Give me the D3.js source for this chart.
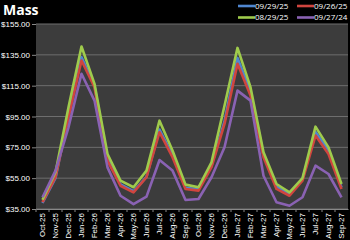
<!DOCTYPE html>
<html>
<head>
<meta charset="utf-8">
<script src="https://cdn.jsdelivr.net/npm/d3@7"></script>
<style>
  body { margin: 0; background: #000; }
  svg { display: block; font-family: "Open Sans", "Liberation Sans", sans-serif; }
</style>
</head>
<body>
<div id="chart"></div>
<script>
// months on the x axis
var months = ["Oct-25","Nov-25","Dec-25","Jan-26","Feb-26","Mar-26","Apr-26","May-26","Jun-26","Jul-26","Aug-26","Sep-26",
              "Oct-26","Nov-26","Dec-26","Jan-27","Feb-27","Mar-27","Apr-27","May-27","Jun-27","Jul-27","Aug-27","Sep-27"];

var seriesNames = ["09/29/25", "09/26/25", "08/29/25", "09/27/24"];
var seriesColors = ["#4f86d0", "#d0453f", "#9fcb4c", "#8a62b3"];

var blue   = [38.9, 55.0, 96.0, 133.5, 115.0, 67.5, 51.0, 46.5, 55.8, 86.5, 70.0, 48.8,
              47.8, 63.0, 92.0, 133.0, 111.0, 70.0, 49.5, 44.5, 54.3, 85.0, 73.0, 49.0];
var red    = [39.4, 55.6, 94.5, 131.3, 114.0, 66.4, 50.1, 45.8, 55.6, 84.8, 68.6, 48.0,
              46.9, 62.1, 90.2, 129.2, 108.6, 68.6, 48.0, 43.6, 53.4, 82.6, 70.7, 48.0];
var green  = [41.0, 58.8, 101.0, 140.4, 116.2, 70.7, 53.4, 49.1, 59.9, 92.3, 72.9, 50.8,
              49.1, 65.3, 102.0, 139.5, 114.0, 71.8, 51.2, 45.8, 55.1, 88.4, 75.0, 51.2];
var purple = [42.6, 59.9, 88.0, 122.7, 105.3, 62.0, 43.6, 38.2, 43.0, 66.8, 59.9, 40.8,
              41.5, 55.6, 75.0, 111.8, 105.3, 56.6, 39.4, 37.1, 42.6, 63.1, 57.7, 42.6];

var yTicks = [35, 55, 75, 95, 115, 135, 155];

var allSeries = [blue, red, green, purple];

var width = 350, height = 240;
var margin = {top: 24, right: 2, bottom: 31, left: 36};

var svg = d3.select("#chart").append("svg")
    .attr("width", width)
    .attr("height", height);

svg.append("rect").attr("width", width).attr("height", height).attr("fill", "#000");

var x = d3.scaleBand()
    .domain(months)
    .range([margin.left, width - margin.right]);

var y = d3.scaleLinear()
    .domain([35, 155])
    .range([height - margin.bottom, margin.top]);

// plot area
svg.append("rect")
    .attr("x", margin.left)
    .attr("y", margin.top)
    .attr("width", width - margin.left - margin.right)
    .attr("height", height - margin.top - margin.bottom)
    .attr("fill", "#3c3c3c");

// gridlines
svg.selectAll(".grid")
    .data(yTicks)
    .enter()
    .append("line")
    .attr("class", "grid")
    .attr("x1", margin.left)
    .attr("x2", width - margin.right)
    .attr("y1", function(d){ return y(d); })
    .attr("y2", function(d){ return y(d); })
    .attr("stroke", "#6e6e6e")
    .attr("stroke-width", 1);

// y axis
var yAxis = svg.append("g")
    .attr("transform", "translate(" + margin.left + ",0)")
    .call(d3.axisLeft(y).tickValues(yTicks).tickSize(4).tickFormat(function(d){ return "$" + d3.format(".2f")(d); }));
yAxis.select(".domain").remove();
yAxis.selectAll("line").attr("stroke", "#888");
yAxis.selectAll("text")
    .attr("fill", "#fff")
    .attr("x", -6)
    .style("font-size", "8px");

// x axis
var xAxis = svg.append("g")
    .attr("transform", "translate(0," + (height - margin.bottom) + ")")
    .call(d3.axisBottom(x).tickSize(0));
xAxis.select(".domain").attr("stroke", "#888");
xAxis.selectAll("text")
    .attr("fill", "#fff")
    .style("font-size", "8px")
    .style("text-anchor", "end")
    .attr("transform", "rotate(-90)")
    .attr("x", -4)
    .attr("y", 0)
    .attr("dy", "0.35em");

// boundary ticks between categories
svg.selectAll(".btick")
    .data(months)
    .enter()
    .append("line")
    .attr("class", "btick")
    .attr("x1", function(d){ return x(d); })
    .attr("x2", function(d){ return x(d); })
    .attr("y1", height - margin.bottom)
    .attr("y2", height - margin.bottom + 3)
    .attr("stroke", "#888");

var line = d3.line()
    .x(function(d, i){ return x(months[i]) + x.bandwidth() / 2; })
    .y(function(d){ return y(d); });

svg.selectAll(".series")
    .data(allSeries)
    .enter()
    .append("path")
    .attr("class", "series")
    .attr("d", line)
    .attr("fill", "none")
    .attr("stroke", function(d, i){ return seriesColors[i]; })
    .attr("stroke-width", 2.6)
    .attr("stroke-linejoin", "round");

// title
svg.append("text")
    .attr("x", 3)
    .attr("y", 15)
    .attr("fill", "#fff")
    .style("font-size", "14px")
    .style("font-weight", "bold")
    .text("Mass");

// legend 2x2
var legendPos = [[238, 6], [297, 6], [238, 17.5], [297, 17.5]];
var legend = svg.selectAll(".legend")
    .data(seriesNames)
    .enter()
    .append("g")
    .attr("class", "legend")
    .attr("transform", function(d, i){ return "translate(" + legendPos[i][0] + "," + legendPos[i][1] + ")"; });

legend.append("line")
    .attr("x1", 0)
    .attr("x2", 17)
    .attr("stroke", function(d, i){ return seriesColors[i]; })
    .attr("stroke-width", 2.6);

legend.append("text")
    .attr("x", 17)
    .attr("dy", "0.35em")
    .attr("fill", "#fff")
    .style("font-size", "8px")
    .text(function(d){ return d; });
</script>
</body>
</html>
